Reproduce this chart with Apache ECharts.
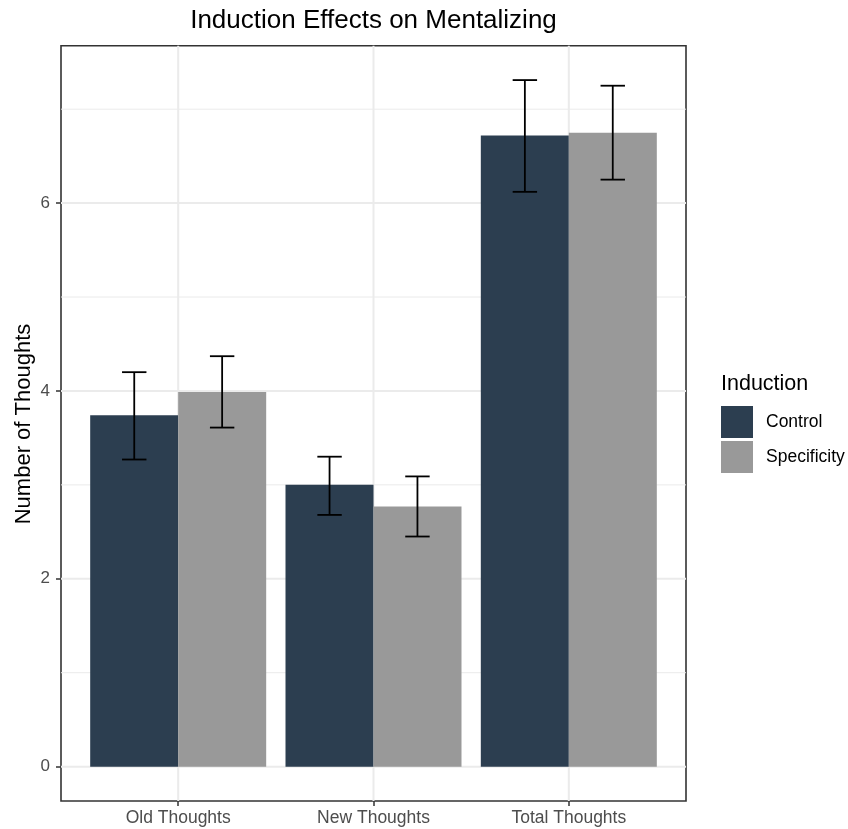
<!DOCTYPE html>
<html>
<head>
<meta charset="utf-8">
<script src="https://cdn.jsdelivr.net/npm/echarts@6/dist/echarts.min.js"></script>
<style>html,body{margin:0;padding:0;background:#fff;}#c{width:848px;height:829px;}</style>
</head>
<body>
<div id="c"></div>
<script>
// ---- data ----
const categories = ['Old Thoughts', 'New Thoughts', 'Total Thoughts'];
const groups = ['Control', 'Specificity'];
const controlMean = [3.74, 3.00, 6.72];
const controlLow  = [3.27, 2.68, 6.12];
const controlHigh = [4.20, 3.30, 7.31];
const specMean = [3.99, 2.77, 6.75];
const specLow  = [3.61, 2.45, 6.25];
const specHigh = [4.37, 3.09, 7.25];
const yTicks = [0, 2, 4, 6];
const yMinorTicks = [1, 3, 5, 7];

// ---- layout constants ----
const FONT = '"Liberation Sans", Arial, Helvetica, sans-serif';
const catPos = categories.map((c, i) => i + 1);
const DODGE = 0.225;     // half of dodge width (0.9 / 4)
const CAP = 0.0625;      // error bar half width
const colors = ['#2C3E50', '#999999'];

const chart = echarts.init(document.getElementById('c'), null, {renderer: 'canvas'});

function gridLineSeries(values, horizontal, width, z) {
  return {
    type: 'custom', z: z, silent: true,
    data: values.map(v => horizontal ? [1, v] : [v, 0]),
    renderItem: function (params, api) {
      const cs = params.coordSys;
      const p = api.coord([api.value(0), api.value(1)]);
      const shape = horizontal
        ? {x1: cs.x, y1: p[1], x2: cs.x + cs.width, y2: p[1]}
        : {x1: p[0], y1: cs.y, x2: p[0], y2: cs.y + cs.height};
      return {type: 'line', shape: shape, style: {stroke: '#EBEBEB', lineWidth: width}};
    }
  };
}

function errSeries(low, high, sign) {
  return {
    type: 'custom', z: 5, silent: true,
    data: catPos.map((x, i) => [x, low[i], high[i]]),
    renderItem: function (params, api) {
      const x = api.value(0) + sign * DODGE;
      const lo = api.coord([x, api.value(1)]);
      const hi = api.coord([x, api.value(2)]);
      const l1 = api.coord([x - CAP, api.value(1)]);
      const r1 = api.coord([x + CAP, api.value(1)]);
      const l2 = api.coord([x - CAP, api.value(2)]);
      const r2 = api.coord([x + CAP, api.value(2)]);
      const st = {stroke: '#000', lineWidth: 1.8};
      return {type: 'group', children: [
        {type: 'line', shape: {x1: lo[0], y1: lo[1], x2: hi[0], y2: hi[1]}, style: st},
        {type: 'line', shape: {x1: l1[0], y1: l1[1], x2: r1[0], y2: r1[1]}, style: st},
        {type: 'line', shape: {x1: l2[0], y1: l2[1], x2: r2[0], y2: r2[1]}, style: st}
      ]};
    }
  };
}

const option = {
  animation: false,
  textStyle: {fontFamily: FONT},
  grid: {left: 61, right: 162, top: 45.7, bottom: 28, show: true,
         borderColor: '#333333', borderWidth: 1.6, backgroundColor: '#fff', containLabel: false},
  xAxis: {
    type: 'value', min: 0.4, max: 3.6, position: 'bottom',
    axisLine: {show: false, onZero: false},
    splitLine: {show: false},
    axisTick: {show: true, customValues: catPos, length: 5, lineStyle: {color: '#333', width: 1.5}},
    axisLabel: {show: true, customValues: catPos, margin: 8, color: '#4D4D4D', fontSize: 17.5, fontFamily: FONT,
      formatter: v => categories[Math.round(v) - 1] || ''}
  },
  yAxis: {
    type: 'value', min: -0.366, max: 7.676, position: 'left',
    axisLine: {show: false, onZero: false},
    splitLine: {show: false},
    axisTick: {show: true, customValues: yTicks, length: 5, lineStyle: {color: '#333', width: 1.5}},
    axisLabel: {show: true, customValues: yTicks, margin: 11, color: '#4D4D4D', fontSize: 17, fontFamily: FONT}
  },
  legend: {
    data: groups, orient: 'vertical', left: 721, top: 406,
    itemWidth: 32, itemHeight: 32, itemGap: 3, icon: 'rect', padding: 0,
    textStyle: {color: '#000', fontSize: 17.5, fontFamily: FONT, padding: [0, 0, 0, 8]}
  },
  graphic: [
    {type: 'text', x: 373.5, y: 21, style: {text: 'Induction Effects on Mentalizing', fill: '#000',
      font: '26px ' + FONT, textAlign: 'center', textVerticalAlign: 'middle'}},
    {type: 'text', x: 721, y: 384, style: {text: 'Induction', fill: '#000',
      font: '21.5px ' + FONT, textAlign: 'left', textVerticalAlign: 'middle'}},
    {type: 'text', x: 24, y: 424, rotation: Math.PI / 2, style: {text: 'Number of Thoughts', fill: '#000',
      font: '22px ' + FONT, textAlign: 'center', textVerticalAlign: 'middle'}}
  ],
  series: [
    gridLineSeries(yMinorTicks, true, 1, 0),
    gridLineSeries(yTicks, true, 2, 0),
    gridLineSeries(catPos, false, 2, 0),
    {name: groups[0], type: 'bar', z: 2, barWidth: 88, barGap: '0%',
     itemStyle: {color: colors[0]}, data: catPos.map((x, i) => [x, controlMean[i]])},
    {name: groups[1], type: 'bar', z: 2, barWidth: 88, barGap: '0%',
     itemStyle: {color: colors[1]}, data: catPos.map((x, i) => [x, specMean[i]])},
    errSeries(controlLow, controlHigh, -1),
    errSeries(specLow, specHigh, 1)
  ]
};
chart.setOption(option);
</script>
</body>
</html>
